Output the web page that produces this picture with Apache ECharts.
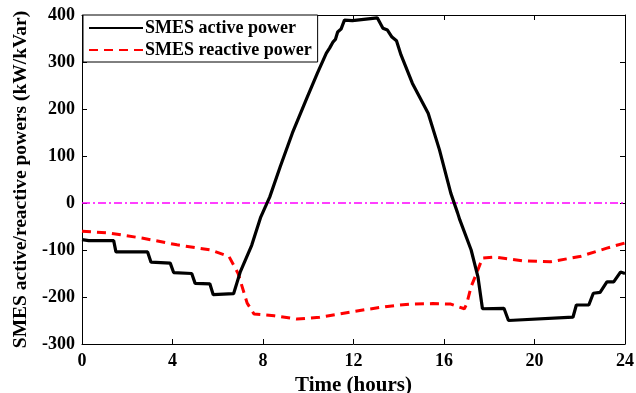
<!DOCTYPE html>
<html>
<head>
<meta charset="utf-8">
<script src="https://cdn.jsdelivr.net/npm/echarts@6/dist/echarts.min.js"></script>
<style>
  html, body { margin: 0; padding: 0; background: #fff; }
  #chart { width: 636px; height: 393px; }
</style>
</head>
<body>
<div id="chart"></div>
<script>
// SMES active power (black, stepwise)
var activeHours = [0, 0.3, 1.4, 1.5, 2.9, 3.05, 3.9, 4.05, 4.85, 5.0, 5.65, 5.8, 6.7, 7.0, 7.5, 7.9,
  8.3, 8.76, 9.3, 9.96, 10.4, 10.8, 10.95, 11.1, 11.2, 11.3, 11.45, 11.6, 11.95, 13.05, 13.3, 13.5,
  13.7, 13.9, 14.1, 14.6, 15.3, 15.8, 16.3, 16.6, 16.7, 17.2, 17.5, 17.7, 18.65, 18.85, 21.7, 21.85,
  22.4, 22.6, 22.9, 23.2, 23.5, 23.8, 24]
var activeValues = [-78, -80, -80, -104, -104, -126, -128, -148, -150, -171, -172, -195, -193, -146, -90, -30,
  13, 77, 149, 226, 276, 319, 330, 343, 348, 364, 370, 389, 388, 394, 372, 368,
  353, 345, 315, 255, 191, 113, 21, -21, -36, -100, -157, -225, -224, -250, -243, -217,
  -217, -192, -190, -168, -168, -147, -150]

// SMES reactive power (red dashed)
var reactiveHours = [0, 1.2, 2.7, 4.2, 5.7, 6.5, 6.9, 7.3, 7.6, 8.5, 9.5, 10.5, 11.5, 12.5, 13.5, 14.5,
  15.5, 16.3, 16.9, 17.0, 17.2, 17.5, 17.7, 18.2, 19.5, 20.7, 22.0, 23.2, 24]
var reactiveValues = [-60, -64, -75, -89, -100, -114, -150, -213, -236, -240, -247, -243, -235, -227, -220, -215,
  -214, -215, -225, -215, -178, -142, -117, -115, -123, -125, -114, -96, -85]

var xTicks = [0, 24, 4]       // min, max, interval
var yTicks = [-300, 400, 100]

function pairs(xs, ys) {
  return xs.map(function (x, i) { return [x, ys[i]] })
}

var font = 'Liberation Serif, Times New Roman, serif'
var chart = echarts.init(document.getElementById('chart'))

chart.setOption({
  animation: false,
  grid: { left: 82, right: 11, top: 15, bottom: 49, outerBoundsMode: 'none', containLabel: false },
  legend: {
    left: 83,
    top: 15,
    orient: 'vertical',
    data: ['SMES active power', 'SMES reactive power'],
    backgroundColor: '#fff',
    borderColor: '#000',
    borderWidth: 1,
    padding: [4, 6, 3, 5],
    itemGap: 4,
    itemWidth: 54,
    itemHeight: 16,
    itemStyle: { opacity: 0 },
    textStyle: { fontFamily: font, fontWeight: 'bold', fontSize: 18, color: '#000', padding: [0, 0, 0, -3] }
  },
  xAxis: [{
    type: 'value',
    min: xTicks[0],
    max: xTicks[1],
    interval: xTicks[2],
    name: 'Time (hours)',
    nameLocation: 'middle',
    nameGap: 20,
    nameTextStyle: { fontFamily: font, fontWeight: 'bold', fontSize: 21, color: '#000' },
    axisLine: { onZero: false, lineStyle: { color: '#000', width: 1 } },
    axisTick: { inside: true, length: 5, lineStyle: { color: '#000' } },
    axisLabel: { fontFamily: font, fontWeight: 'bold', fontSize: 18, color: '#000', margin: 8 },
    splitLine: { show: false }
  }, {
    type: 'value',
    position: 'top',
    min: xTicks[0],
    max: xTicks[1],
    interval: xTicks[2],
    axisLine: { onZero: false, lineStyle: { color: '#000', width: 1 } },
    axisTick: { inside: true, length: 5, lineStyle: { color: '#000' } },
    axisLabel: { show: false },
    splitLine: { show: false }
  }],
  yAxis: [{
    type: 'value',
    min: yTicks[0],
    max: yTicks[1],
    interval: yTicks[2],
    name: 'SMES active/reactive powers (kW/kVar)',
    nameLocation: 'middle',
    nameGap: 50,
    nameTextStyle: { fontFamily: font, fontWeight: 'bold', fontSize: 19.5, color: '#000' },
    axisLine: { show: true, onZero: false, lineStyle: { color: '#000', width: 1 } },
    axisTick: { show: true, inside: true, length: 5, lineStyle: { color: '#000' } },
    axisLabel: { fontFamily: font, fontWeight: 'bold', fontSize: 18, color: '#000', margin: 7 },
    splitLine: { show: false }
  }, {
    type: 'value',
    position: 'right',
    min: yTicks[0],
    max: yTicks[1],
    interval: yTicks[2],
    axisLine: { show: true, onZero: false, lineStyle: { color: '#000', width: 1 } },
    axisTick: { show: true, inside: true, length: 5, lineStyle: { color: '#000' } },
    axisLabel: { show: false },
    splitLine: { show: false }
  }],
  series: [{
    name: 'zero',
    type: 'line',
    data: [[xTicks[0], 0], [xTicks[1], 0]],
    symbol: 'none',
    silent: true,
    lineStyle: { color: '#ff00ff', width: 1.5, type: [8, 3, 2, 3] },
    z: 1
  }, {
    name: 'SMES active power',
    type: 'line',
    data: pairs(activeHours, activeValues),
    symbol: 'none',
    lineStyle: { color: '#000', width: 3.2 },
    itemStyle: { color: '#000' },
    z: 3
  }, {
    name: 'SMES reactive power',
    type: 'line',
    data: pairs(reactiveHours, reactiveValues),
    symbol: 'none',
    lineStyle: { color: '#ff0000', width: 3, type: [9, 6] },
    itemStyle: { color: '#ff0000' },
    z: 2
  }]
})
</script>
</body>
</html>
